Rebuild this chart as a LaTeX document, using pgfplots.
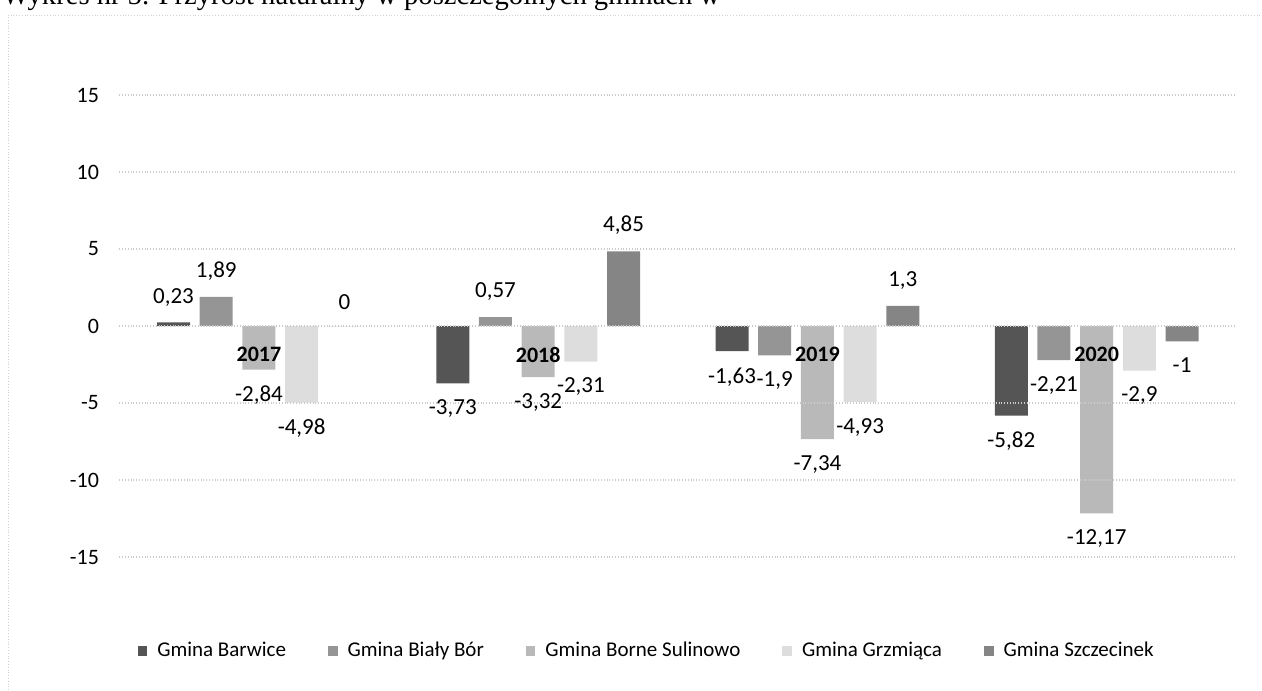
\documentclass[border=0pt]{standalone}
\usepackage{pgfplots}
\pgfplotsset{compat=1.18}
\usepackage{fontspec}
\setmainfont{Carlito}
\newfontfamily\serifont{Liberation Serif}
\definecolor{cBar}{HTML}{555555}
\definecolor{cBia}{HTML}{959595}
\definecolor{cBor}{HTML}{B9B9B9}
\definecolor{cGrz}{HTML}{DDDDDD}
\definecolor{cSzc}{HTML}{858585}
\pgfplotsset{
  sqlegend/.style={legend image code/.code={\fill[##1] (0pt,-2.4pt) rectangle (4.8pt,2.4pt);}},
}
\begin{document}
\begin{tikzpicture}[x=1pt,y=1pt]
\useasboundingbox (0,0) rectangle (631,345);
\node[anchor=base west, inner sep=0pt, font=\serifont\fontsize{14.3}{17}\selectfont] at (1,342.5) {Wykres nr 5. Przyrost naturalny w poszczególnych gminach w};
\draw[gray!35, densely dotted] (4,0) -- (4,337.5) -- (631,337.5);
\begin{axis}[
  axis on top,
  at={(59.65pt,66.5pt)}, anchor=south west,
  scale only axis, width=558.5pt, height=231pt,
  xmin=-0.5, xmax=3.5, ymin=-15, ymax=15,
  ytick={-15,-10,...,15},
  xtick={0,1,2,3}, xticklabels={2017,2018,2019,2020},
  axis x line*=middle, axis y line*=left, axis line style={draw=none},
  hide obscured y ticks=false,
  major tick length=0pt,
  ymajorgrids, grid style={gray!40, densely dotted, line width=0.6pt},
  ybar=4.85pt, bar width=16.5pt,
  every axis plot post/.append style={sqlegend},
  /pgf/number format/.cd, use comma, precision=2, 1000 sep={}, assume math mode=true,
  /pgfplots/.cd,
  yticklabel style={inner sep=0pt, xshift=-10pt, font=\fontsize{11}{13}\selectfont},
  xticklabel style={inner sep=0pt, yshift=-10.5pt, font=\bfseries\fontsize{11}{13}\selectfont},
  nodes near coords,
  every node near coord/.append style={font=\fontsize{11.5}{13}\selectfont, inner xsep=0pt, inner ysep=8pt, text=black},
  legend style={at={(0.473,-0.2035)}, anchor=center, draw=none, fill=none,
    font=\fontsize{10.5}{12}\selectfont, legend columns=5,
    /tikz/every even column/.append style={column sep=19pt},
    /tikz/every odd column/.append style={column sep=3pt}},
]
\addplot[fill=cBar, draw=none] coordinates {(0,0.23) (1,-3.73) (2,-1.63) (3,-5.82)};
\addplot[fill=cBia, draw=none] coordinates {(0,1.89) (1,0.57) (2,-1.9) (3,-2.21)};
\addplot[fill=cBor, draw=none] coordinates {(0,-2.84) (1,-3.32) (2,-7.34) (3,-12.17)};
\addplot[fill=cGrz, draw=none] coordinates {(0,-4.98) (1,-2.31) (2,-4.93) (3,-2.9)};
\addplot[fill=cSzc, draw=none] coordinates {(0,0) (1,4.85) (2,1.3) (3,-1)};
\legend{Gmina Barwice, Gmina Biały Bór, Gmina Borne Sulinowo, Gmina Grzmiąca, Gmina Szczecinek}
\end{axis}
\end{tikzpicture}
\end{document}
